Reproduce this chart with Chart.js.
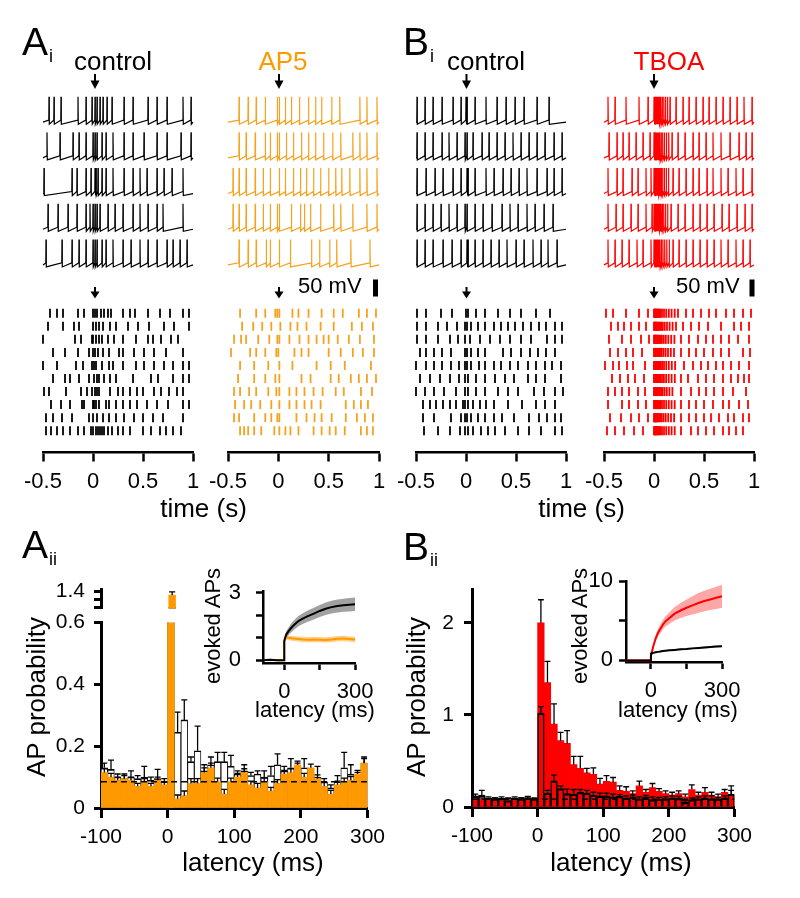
<!DOCTYPE html>
<html>
<head>
<meta charset="utf-8">
<script src="https://cdn.jsdelivr.net/npm/chart.js"></script>
<style>
  body { margin: 0; width: 800px; height: 898px; background: #fff; position: relative; overflow: hidden; }
  canvas { position: absolute; }
  #ann { position: absolute; left: 0; top: 0; z-index: 5; pointer-events: none; }
</style>
</head>
<body>
<svg id="ann" width="800" height="898" font-family="'Liberation Sans', Arial, sans-serif">
  <text x="22" y="55" font-size="39">A</text><text x="49" y="62" font-size="18">i</text>
  <text x="403" y="55" font-size="39">B</text><text x="430" y="62" font-size="18">i</text>
  <text x="22" y="558" font-size="39">A</text><text x="49" y="565" font-size="18">ii</text>
  <text x="403" y="560" font-size="39">B</text><text x="430" y="566" font-size="18">ii</text>

  <text x="74" y="70" font-size="26">control</text>
  <text x="283" y="70" font-size="26" text-anchor="middle" fill="#ff9900">AP5</text>
  <text x="447" y="70" font-size="26">control</text>
  <text x="669" y="70" font-size="26" text-anchor="middle" fill="#ff0000">TBOA</text>

  <text x="298" y="293" font-size="22">50 mV</text>
  <rect x="373" y="279.5" width="5" height="17" fill="#000"/>
  <text x="676" y="293" font-size="22">50 mV</text>
  <rect x="749.5" y="279.5" width="5" height="17" fill="#000"/>

  <text x="203.5" y="517" font-size="26" text-anchor="middle">time (s)</text>
  <text x="581.5" y="517" font-size="26" text-anchor="middle">time (s)</text>

  <text transform="translate(45,697) rotate(-90)" font-size="26" text-anchor="middle">AP probability</text>
  <text transform="translate(425,697) rotate(-90)" font-size="26" text-anchor="middle">AP probability</text>
  <text x="253" y="871" font-size="26" text-anchor="middle">latency (ms)</text>
  <text x="621" y="871" font-size="26" text-anchor="middle">latency (ms)</text>

  <text transform="translate(220,626) rotate(-90)" font-size="22" text-anchor="middle">evoked APs</text>
  <text transform="translate(587,626) rotate(-90)" font-size="22" text-anchor="middle">evoked APs</text>
  <text x="315" y="717" font-size="22" text-anchor="middle">latency (ms)</text>
  <text x="678" y="717" font-size="22" text-anchor="middle">latency (ms)</text>

  <!-- stimulus arrows -->
  <g stroke="#000" stroke-width="2">
    <path d="M95 74 V82 M279 74 V82 M466.5 74 V82 M654 74 V82"/>
    <path d="M95 287 V293 M279 287 V293 M466.5 287 V293 M654 287 V293"/>
  </g>
  <g fill="#000">
    <polygon points="90.5,80.5 99.5,80.5 95,89"/>
    <polygon points="274.5,80.5 283.5,80.5 279,89"/>
    <polygon points="462,80.5 471,80.5 466.5,89"/>
    <polygon points="649.5,80.5 658.5,80.5 654,89"/>
    <polygon points="90.5,291.5 99.5,291.5 95,298.5"/>
    <polygon points="274.5,291.5 283.5,291.5 279,298.5"/>
    <polygon points="462,291.5 471,291.5 466.5,298.5"/>
    <polygon points="649.5,291.5 658.5,291.5 654,298.5"/>
  </g>
</svg>

<script>
// ---- data ----

// membrane traces: spike times (s), 5 sweeps per condition
const ctrlTraceA = [
  [-0.44,-0.39,-0.32,-0.15,-0.07,-0.01,0.02,0.04,0.07,0.10,0.14,0.19,0.31,0.40,0.55,0.64,0.74,0.90,0.98],
  [-0.46,-0.33,-0.20,-0.14,-0.07,0.00,0.02,0.04,0.09,0.13,0.20,0.31,0.40,0.51,0.64,0.74,0.88,0.98],
  [-0.49,-0.21,-0.16,-0.07,-0.02,0.02,0.03,0.05,0.09,0.13,0.20,0.31,0.40,0.47,0.54,0.64,0.71,0.79,0.90],
  [-0.45,-0.35,-0.25,-0.16,-0.07,-0.03,0.00,0.02,0.04,0.07,0.15,0.22,0.30,0.40,0.47,0.55,0.64,0.70,0.90],
  [-0.47,-0.31,-0.21,-0.14,-0.07,0.00,0.02,0.04,0.09,0.13,0.20,0.30,0.38,0.47,0.55,0.64,0.74,0.80,0.87,0.94]
];
const ap5Trace = [
  [-0.39,-0.30,-0.22,-0.13,-0.01,0.01,0.07,0.13,0.21,0.30,0.37,0.43,0.53,0.61,0.81,0.88,0.98],
  [-0.39,-0.32,-0.23,-0.13,-0.08,-0.01,0.01,0.08,0.15,0.23,0.30,0.37,0.45,0.54,0.62,0.74,0.81,0.88,0.98],
  [-0.45,-0.39,-0.32,-0.23,-0.15,-0.08,0.01,0.07,0.15,0.22,0.28,0.35,0.42,0.50,0.57,0.63,0.71,0.81,0.88,0.98],
  [-0.45,-0.39,-0.32,-0.23,-0.15,-0.08,-0.01,0.01,0.13,0.22,0.26,0.32,0.42,0.55,0.62,0.74,0.88,0.98],
  [-0.39,-0.30,-0.22,-0.12,-0.08,0.01,0.12,0.33,0.41,0.51,0.58,0.72,0.91]
];
const ctrlTraceB = [
  [-0.49,-0.41,-0.33,-0.24,-0.13,-0.05,0.00,0.01,0.09,0.20,0.31,0.40,0.49,0.58,0.71,0.83],
  [-0.49,-0.41,-0.33,-0.24,-0.17,-0.09,-0.01,0.01,0.07,0.16,0.23,0.31,0.39,0.47,0.55,0.63,0.71,0.79,0.88,0.96],
  [-0.49,-0.40,-0.31,-0.23,-0.13,-0.05,0.01,0.02,0.09,0.20,0.28,0.37,0.45,0.53,0.61,0.71,0.81,0.88,0.96],
  [-0.49,-0.41,-0.33,-0.25,-0.17,-0.09,-0.01,0.01,0.09,0.17,0.26,0.36,0.44,0.52,0.61,0.69,0.78,0.87],
  [-0.49,-0.41,-0.33,-0.23,-0.14,-0.05,0.01,0.02,0.09,0.17,0.25,0.33,0.41,0.50,0.58,0.67,0.75,0.82,0.91]
];
const tboaTrace = [
  [-0.46,-0.39,-0.28,-0.15,-0.06,0.000,0.008,0.016,0.025,0.034,0.044,0.055,0.068,0.082,0.098,0.115,0.135,0.16,0.22,0.29,0.35,0.42,0.49,0.55,0.62,0.69,0.76,0.83,0.90,0.98],
  [-0.45,-0.37,-0.31,-0.25,-0.18,-0.11,-0.04,0.000,0.008,0.017,0.026,0.036,0.047,0.059,0.072,0.087,0.104,0.124,0.147,0.18,0.24,0.31,0.39,0.45,0.52,0.59,0.67,0.76,0.85,0.92,0.98],
  [-0.46,-0.37,-0.31,-0.22,-0.16,-0.08,-0.03,0.000,0.008,0.016,0.025,0.035,0.046,0.058,0.071,0.086,0.103,0.122,0.145,0.19,0.25,0.32,0.39,0.45,0.53,0.59,0.67,0.74,0.82,0.89,0.98],
  [-0.46,-0.38,-0.31,-0.23,-0.16,-0.08,-0.02,0.000,0.008,0.016,0.025,0.034,0.044,0.055,0.067,0.081,0.097,0.115,0.136,0.17,0.24,0.31,0.39,0.46,0.53,0.60,0.68,0.75,0.83,0.91,0.98],
  [-0.46,-0.39,-0.32,-0.25,-0.17,-0.11,-0.03,0.000,0.008,0.017,0.026,0.036,0.047,0.059,0.073,0.089,0.107,0.128,0.152,0.19,0.25,0.32,0.39,0.46,0.53,0.60,0.67,0.74,0.82,0.89,0.96]
];

// rasters: spike times (s), 10 trials per condition
const ctrlRasterA = [
  [-0.43,-0.36,-0.30,-0.15,-0.09,0.00,0.02,0.04,0.08,0.11,0.15,0.18,0.30,0.37,0.42,0.55,0.67,0.77,0.90,0.96],
  [-0.45,-0.30,-0.19,-0.14,0.00,0.03,0.06,0.10,0.17,0.23,0.35,0.45,0.56,0.71,0.81,0.96],
  [-0.50,-0.18,-0.12,-0.01,0.00,0.03,0.06,0.09,0.15,0.21,0.30,0.43,0.55,0.60,0.68,0.78,0.85],
  [-0.40,-0.28,-0.15,-0.04,0.00,0.02,0.05,0.10,0.16,0.26,0.30,0.41,0.51,0.61,0.73,0.90],
  [-0.50,-0.36,-0.17,-0.10,-0.01,0.01,0.03,0.09,0.16,0.20,0.30,0.43,0.51,0.61,0.71,0.80,0.90,0.96],
  [-0.40,-0.28,-0.23,-0.14,-0.04,0.01,0.04,0.06,0.11,0.17,0.23,0.40,0.58,0.65,0.80,0.90,0.96],
  [-0.49,-0.44,-0.27,-0.12,-0.06,-0.01,0.02,0.04,0.06,0.17,0.25,0.30,0.37,0.44,0.50,0.61,0.68,0.76,0.84,0.90],
  [-0.42,-0.32,-0.23,-0.11,-0.09,0.00,0.01,0.03,0.06,0.13,0.16,0.23,0.30,0.37,0.44,0.54,0.64,0.75,0.90,0.96],
  [-0.47,-0.40,-0.31,-0.21,-0.04,0.00,0.04,0.10,0.16,0.23,0.31,0.41,0.50,0.60,0.70,0.90],
  [-0.47,-0.42,-0.36,-0.30,-0.23,-0.15,-0.09,-0.02,0.00,0.03,0.05,0.07,0.09,0.11,0.15,0.19,0.25,0.30,0.37,0.50,0.58,0.67,0.73,0.80,0.88]
];
const ap5Raster = [
  [-0.38,-0.22,-0.13,-0.03,-0.01,0.01,0.14,0.20,0.30,0.43,0.55,0.64,0.80,0.88,0.97],
  [-0.36,-0.25,-0.16,-0.07,0.02,0.12,0.19,0.28,0.42,0.55,0.73,0.83,0.94],
  [-0.44,-0.37,-0.32,-0.20,-0.09,-0.01,0.01,0.11,0.21,0.30,0.38,0.45,0.50,0.59,0.70,0.81,0.95],
  [-0.47,-0.28,-0.22,-0.13,-0.02,0.00,0.16,0.23,0.30,0.50,0.62,0.74,0.84,0.95],
  [-0.38,-0.24,-0.10,0.01,0.14,0.38,0.52,0.66,0.92],
  [-0.40,-0.24,-0.13,-0.03,0.01,0.23,0.32,0.52,0.60,0.72,0.80,0.88,0.97],
  [-0.44,-0.38,-0.29,-0.22,-0.10,-0.02,0.01,0.11,0.18,0.26,0.35,0.44,0.57,0.65,0.82,0.93],
  [-0.43,-0.34,-0.27,-0.18,-0.07,0.01,0.11,0.18,0.26,0.33,0.42,0.67,0.75,0.82,0.89],
  [-0.44,-0.39,-0.24,-0.13,-0.07,-0.01,0.01,0.18,0.28,0.36,0.43,0.53,0.67,0.78,0.86,0.94],
  [-0.38,-0.34,-0.30,-0.24,-0.17,-0.04,0.01,0.07,0.12,0.20,0.35,0.43,0.51,0.57,0.66,0.82,0.88,0.94]
];
const ctrlRasterB = [
  [-0.49,-0.40,-0.25,-0.14,0.00,0.02,0.10,0.19,0.32,0.44,0.55,0.70,0.84],
  [-0.49,-0.40,-0.28,-0.19,-0.09,-0.01,0.01,0.05,0.12,0.19,0.28,0.35,0.42,0.49,0.57,0.65,0.73,0.80,0.89,0.96],
  [-0.49,-0.40,-0.28,-0.16,-0.08,-0.01,0.04,0.14,0.24,0.34,0.44,0.55,0.65,0.81,0.89,0.96],
  [-0.46,-0.40,-0.32,-0.24,-0.15,-0.01,0.01,0.05,0.12,0.19,0.37,0.45,0.55,0.64,0.72,0.80,0.89],
  [-0.50,-0.40,-0.32,-0.24,-0.15,-0.07,-0.01,0.01,0.05,0.13,0.19,0.28,0.35,0.44,0.52,0.62,0.70,0.79,0.86,0.95],
  [-0.46,-0.36,-0.26,-0.16,-0.07,-0.01,0.02,0.10,0.19,0.29,0.39,0.48,0.62,0.70,0.79,0.95],
  [-0.50,-0.41,-0.32,-0.22,-0.10,-0.01,0.02,0.10,0.19,0.32,0.42,0.52,0.68,0.78,0.89,0.97],
  [-0.43,-0.36,-0.30,-0.23,-0.16,-0.10,-0.03,-0.01,0.02,0.07,0.14,0.20,0.28,0.42,0.56,0.70,0.79,0.89],
  [-0.43,-0.32,-0.15,-0.05,-0.01,0.01,0.05,0.12,0.19,0.28,0.36,0.48,0.63,0.73,0.81,0.89,0.95],
  [-0.42,-0.28,-0.16,-0.06,-0.01,0.02,0.07,0.15,0.22,0.29,0.39,0.52,0.63,0.75,0.89,0.96]
];
const tboaRaster = [
  [-0.48,-0.41,-0.28,-0.15,-0.06,0.000,0.005,0.010,0.015,0.020,0.026,0.032,0.039,0.047,0.056,0.066,0.080,0.100,0.122,0.148,0.176,0.207,0.24,0.32,0.39,0.47,0.55,0.62,0.72,0.80,0.89,0.97],
  [-0.43,-0.36,-0.30,-0.23,-0.15,-0.08,0.000,0.005,0.010,0.015,0.021,0.027,0.034,0.042,0.051,0.061,0.073,0.088,0.107,0.130,0.156,0.186,0.22,0.29,0.37,0.45,0.54,0.67,0.80,0.87,0.95],
  [-0.45,-0.32,-0.23,-0.13,-0.05,0.000,0.005,0.010,0.015,0.020,0.026,0.032,0.039,0.047,0.056,0.066,0.079,0.097,0.118,0.143,0.172,0.204,0.27,0.35,0.44,0.52,0.59,0.67,0.75,0.84,0.95],
  [-0.44,-0.36,-0.28,-0.21,-0.12,0.000,0.005,0.010,0.015,0.020,0.025,0.031,0.038,0.046,0.055,0.065,0.078,0.095,0.116,0.140,0.168,0.200,0.27,0.35,0.42,0.50,0.59,0.67,0.75,0.89,0.96],
  [-0.49,-0.41,-0.35,-0.27,-0.21,-0.09,0.000,0.005,0.010,0.015,0.020,0.026,0.032,0.039,0.047,0.056,0.067,0.081,0.100,0.122,0.148,0.178,0.211,0.30,0.39,0.47,0.54,0.62,0.69,0.77,0.85,0.95],
  [-0.42,-0.34,-0.26,-0.19,-0.10,0.000,0.005,0.010,0.015,0.020,0.026,0.032,0.039,0.047,0.056,0.066,0.080,0.099,0.121,0.147,0.176,0.208,0.27,0.34,0.44,0.52,0.60,0.69,0.77,0.84,0.90,0.95],
  [-0.46,-0.39,-0.32,-0.25,-0.16,-0.09,0.000,0.005,0.010,0.015,0.020,0.026,0.033,0.041,0.050,0.060,0.072,0.087,0.106,0.128,0.154,0.184,0.27,0.37,0.45,0.52,0.60,0.69,0.79,0.92],
  [-0.46,-0.32,-0.25,-0.16,-0.08,0.000,0.005,0.010,0.015,0.020,0.026,0.032,0.039,0.047,0.056,0.066,0.080,0.100,0.122,0.148,0.176,0.207,0.27,0.35,0.42,0.50,0.59,0.69,0.75,0.85,0.94],
  [-0.44,-0.33,-0.23,-0.15,-0.06,0.000,0.005,0.010,0.015,0.020,0.025,0.031,0.038,0.046,0.055,0.065,0.078,0.096,0.117,0.142,0.170,0.201,0.27,0.35,0.42,0.50,0.57,0.65,0.74,0.80,0.89,0.95],
  [-0.47,-0.39,-0.30,-0.20,-0.11,0.000,0.005,0.010,0.015,0.020,0.026,0.032,0.039,0.047,0.056,0.066,0.080,0.100,0.122,0.148,0.176,0.207,0.27,0.37,0.44,0.52,0.60,0.69,0.75,0.82,0.89]
];
const rasterTicks = [-0.5, 0, 0.5, 1];

// peri-stimulus histograms: 10 ms bins (centres, ms)
const latencyBins = [-95,-85,-75,-65,-55,-45,-35,-25,-15,-5,5,15,25,35,45,55,65,75,85,95,
                     105,115,125,135,145,155,165,175,185,195,205,215,225,235,245,255,265,275,285,295];
const latencyTicks = [-100, 0, 100, 200, 300];

const ctrlProbA = [0.130,0.125,0.100,0.095,0.100,0.095,0.100,0.090,0.095,0.085,
                   1.000,0.245,0.285,0.150,0.185,0.120,0.140,0.150,0.150,0.135,
                   0.110,0.120,0.105,0.110,0.100,0.105,0.140,0.120,0.130,0.115,
                   0.130,0.105,0.100,0.085,0.065,0.085,0.130,0.110,0.095,0.145];
const ctrlErrA  = [0.015,0.030,0.010,0.015,0.020,0.010,0.035,0.010,0.030,0.010,
                   0.050,0.065,0.065,0.015,0.080,0.020,0.025,0.030,0.030,0.035,
                   0.010,0.020,0.010,0.010,0.020,0.030,0.035,0.015,0.030,0.030,
                   0.030,0.020,0.035,0.010,0.010,0.020,0.050,0.030,0.020,0.020];
const ap5Prob   = [0.115,0.100,0.090,0.095,0.090,0.070,0.085,0.070,0.090,0.075,
                   1.300,0.030,0.040,0.080,0.080,0.115,0.130,0.085,0.045,0.085,
                   0.100,0.115,0.075,0.065,0.085,0.055,0.080,0.110,0.115,0.140,
                   0.100,0.130,0.095,0.070,0.045,0.075,0.085,0.090,0.110,0.145];
const ap5Err    = [0.012,0.012,0.010,0.010,0.010,0.010,0.010,0.010,0.010,0.010,
                   0.080,0.012,0.015,0.015,0.015,0.015,0.015,0.012,0.015,0.012,
                   0.012,0.012,0.012,0.015,0.012,0.012,0.012,0.012,0.012,0.012,
                   0.012,0.012,0.012,0.012,0.012,0.012,0.012,0.012,0.012,0.015];
const probTicksA = [0, 0.2, 0.4, 0.6];
const probTicksABreak = [1.0, 1.2, 1.4];

const ctrlProbB = [0.120,0.130,0.100,0.090,0.095,0.070,0.100,0.090,0.100,0.090,
                   1.020,0.150,0.285,0.200,0.145,0.140,0.160,0.150,0.130,0.120,
                   0.120,0.110,0.115,0.100,0.110,0.090,0.105,0.080,0.085,0.090,
                   0.100,0.095,0.050,0.080,0.090,0.100,0.090,0.085,0.100,0.140];
const ctrlErrB  = [0.020,0.050,0.010,0.010,0.015,0.030,0.010,0.010,0.015,0.010,
                   0.070,0.030,0.060,0.030,0.050,0.050,0.030,0.030,0.030,0.030,
                   0.030,0.030,0.020,0.020,0.020,0.020,0.020,0.030,0.020,0.020,
                   0.020,0.020,0.020,0.020,0.020,0.020,0.030,0.020,0.020,0.090];
const tboaProb  = [0.100,0.090,0.080,0.090,0.070,0.080,0.080,0.090,0.100,0.080,
                   2.000,1.350,0.900,0.720,0.690,0.460,0.420,0.370,0.355,0.250,
                   0.280,0.270,0.180,0.170,0.145,0.230,0.160,0.210,0.170,0.145,
                   0.130,0.145,0.110,0.190,0.130,0.160,0.130,0.110,0.160,0.130];
const tboaErr   = [0.010,0.010,0.010,0.010,0.010,0.010,0.010,0.010,0.010,0.010,
                   0.250,0.230,0.220,0.090,0.140,0.090,0.130,0.050,0.070,0.060,
                   0.060,0.050,0.050,0.050,0.030,0.050,0.030,0.045,0.030,0.030,
                   0.030,0.030,0.030,0.050,0.030,0.050,0.030,0.030,0.030,0.050];
const probTicksB = [0, 1, 2];

const baselineLat = [-100, 300];
const baselineA = [0.085, 0.085];
const baselineB = [0.084, 0.084];

// insets: cumulative evoked APs
const insetLatA = [-90,-60,-30,-1,0,5,10,20,30,40,60,80,100,125,150,175,200,225,250,275,300];
const ctrlEvokedA    = [0,0.02,0,0,0.85,1.05,1.18,1.32,1.45,1.56,1.75,1.87,1.97,2.08,2.20,2.30,2.37,2.42,2.45,2.48,2.50];
const ctrlEvokedErrA = [0.03,0.03,0.03,0.03,0.10,0.13,0.15,0.18,0.20,0.21,0.23,0.24,0.25,0.26,0.27,0.28,0.28,0.29,0.29,0.30,0.30];
const ap5Evoked      = [0,0.02,0,0,0.85,1.00,1.02,1.00,0.98,0.97,0.95,0.93,0.92,0.93,0.92,0.91,0.93,0.96,0.97,0.95,0.93];
const ap5EvokedErr   = [0.03,0.03,0.03,0.03,0.08,0.10,0.10,0.10,0.11,0.11,0.11,0.12,0.12,0.12,0.12,0.12,0.12,0.12,0.12,0.12,0.12];
const evokedTicksA = [0, 1, 2, 3];

const insetLatB = [-105,-60,-30,-1,0,5,10,20,30,40,50,60,80,100,125,150,175,200,225,250,275,300];
const tboaEvoked     = [0,0,0,0,0.6,1.2,1.8,2.8,3.5,4.0,4.5,4.9,5.4,5.9,6.3,6.65,6.95,7.25,7.5,7.7,7.9,8.1];
const tboaEvokedErr  = [0.05,0.05,0.05,0.05,0.15,0.25,0.3,0.4,0.5,0.55,0.6,0.65,0.75,0.85,0.95,1.05,1.15,1.25,1.3,1.35,1.4,1.45];
const ctrlEvokedB    = [0,0,0,0,0.85,0.90,0.95,1.02,1.08,1.13,1.18,1.22,1.28,1.33,1.40,1.45,1.52,1.57,1.63,1.70,1.75,1.80];
const ctrlEvokedErrB = [0.03,0.03,0.03,0.03,0.06,0.07,0.08,0.08,0.09,0.09,0.1,0.1,0.1,0.1,0.11,0.11,0.11,0.12,0.12,0.12,0.12,0.12];
const evokedTicksB = [0, 5, 10];
const insetTicksX = [0, 150, 300];

// ---- styling ----
const ORANGE = '#ff9900';
const ORANGE_TRACE = '#f6a21e';
const RED = '#ff0000';
const REST = -65, PEAK = 10, AHP = -71, PRE = -59, ROW_STEP = 105;

Chart.defaults.font.family = "'Liberation Sans', Arial, Helvetica, sans-serif";
Chart.defaults.font.size = 22;
Chart.defaults.color = '#000';
Chart.defaults.animation = false;
Chart.defaults.responsive = false;
Chart.defaults.events = [];
Chart.defaults.plugins.legend.display = false;
Chart.defaults.plugins.tooltip.enabled = false;

function makeCanvas(b) {
  const c = document.createElement('canvas');
  c.width = Math.round(b.w + b.pl + b.pr);
  c.height = Math.round(b.h + b.pt + b.pb);
  c.style.left = (b.l - b.pl) + 'px';
  c.style.top = (b.t - b.pt) + 'px';
  document.body.appendChild(c);
  return c;
}

function fixedTicks(vals) {
  return function (s) { s.ticks = vals.map(function (v) { return {value: v}; }); };
}

function xAxis(min, max, ticks, label, o) {
  return {
    type: 'linear', min: min, max: max, offset: false,
    afterBuildTicks: fixedTicks(ticks),
    afterFit: function (s) { s.height = o.h; },
    border: {display: true, color: '#000', width: o.lw},
    grid: {display: true, drawOnChartArea: false, drawTicks: true, tickLength: o.len, tickWidth: o.lw, tickColor: '#000', offset: false},
    ticks: {padding: o.pad, maxRotation: 0, minRotation: 0, autoSkip: false, color: '#000', font: {size: o.fs},
            callback: function (v) { return label(v); }}
  };
}

function yAxis(min, max, ticks, label, o) {
  return {
    type: 'linear', min: min, max: max, position: 'left',
    afterBuildTicks: fixedTicks(ticks),
    afterFit: function (s) { s.width = o.w; },
    border: {display: true, color: '#000', width: o.lw},
    grid: {display: true, drawOnChartArea: false, drawTicks: true, tickLength: o.len, tickWidth: o.lw, tickColor: '#000'},
    ticks: {padding: o.pad, autoSkip: false, color: '#000', font: {size: o.fs},
            callback: function (v) { return label(v); }}
  };
}

function traceData(spikes, row) {
  const off = -ROW_STEP * row;
  const pts = [{x: -0.5, y: REST + off}];
  spikes.forEach(function (s) {
    pts.push({x: s - 0.002, y: PRE + off});
    pts.push({x: s, y: PEAK + off});
    pts.push({x: s + 0.003, y: AHP + off});
  });
  pts.push({x: 1.0, y: REST + off});
  return pts;
}

function traceChart(box, sweeps, color) {
  new Chart(makeCanvas(box), {
    type: 'line',
    data: {datasets: sweeps.map(function (spk, r) {
      return {data: traceData(spk, r), borderColor: color, borderWidth: 1.2, pointRadius: 0, tension: 0, clip: false};
    })},
    options: {
      layout: {padding: {left: box.pl, right: box.pr, top: box.pt, bottom: box.pb}},
      scales: {
        x: {type: 'linear', min: -0.5, max: 1.0, display: false},
        y: {type: 'linear', min: -500, max: 15, display: false}
      }
    }
  });
}

function rasterChart(box, trials, color) {
  const pts = [];
  trials.forEach(function (r, i) { r.forEach(function (t) { pts.push({x: t, y: i + 1}); }); });
  new Chart(makeCanvas(box), {
    type: 'scatter',
    data: {datasets: [{data: pts, pointStyle: 'line', pointRotation: 90, pointRadius: 4.5,
                       pointBorderWidth: 1.8, pointBorderColor: color, borderColor: color, clip: false}]},
    options: {
      layout: {padding: {left: box.pl, right: box.pr, top: box.pt, bottom: 0}},
      scales: {
        x: xAxis(-0.5, 1, rasterTicks, function (v) { return String(v); },
                 {h: box.pb, len: 9.5, lw: 2.5, pad: 7, fs: 22}),
        y: {type: 'linear', min: 0.52, max: 11.63, reverse: true, display: false}
      }
    }
  });
}

function bars(bins, vals) { return bins.map(function (x, i) { return {x: x, y: vals[i]}; }); }
function errSegs(bins, vals, errs, cap) {
  const pts = [];
  bins.forEach(function (x, i) {
    const top = vals[i] + errs[i];
    pts.push({x: x, y: vals[i]}, {x: x, y: top}, {x: x, y: null});
    pts.push({x: x - cap, y: top}, {x: x + cap, y: top}, {x: x, y: null});
  });
  return pts;
}
function line(xs, ys) { return xs.map(function (x, i) { return {x: x, y: ys[i]}; }); }

function barSet(vals, fill, border, order) {
  return {type: 'bar', data: bars(latencyBins, vals), backgroundColor: fill,
          borderColor: '#000', borderWidth: border, borderSkipped: 'start',
          grouped: false, barPercentage: 1, categoryPercentage: 1, order: order, clip: 0};
}
function errSet(vals, errs, order) {
  return {type: 'line', data: errSegs(latencyBins, vals, errs, 4.5), borderColor: '#000',
          borderWidth: 1.3, pointRadius: 0, tension: 0, order: order, clip: 0};
}
function dashSet(vals) {
  return {type: 'line', data: line(baselineLat, vals), borderColor: '#000', borderWidth: 1.5,
          borderDash: [6, 4], pointRadius: 0, order: 0, clip: 0};
}
const OUTLINE = {top: 1.6, left: 0.9, right: 0.9, bottom: 0};

function datasetsA() {
  return [
    dashSet(baselineA),
    errSet(ap5Prob, ap5Err, 1),
    barSet(ap5Prob, ORANGE, 0, 2),
    errSet(ctrlProbA, ctrlErrA, 3),
    barSet(ctrlProbA, '#ffffff', OUTLINE, 4)
  ];
}
function datasetsB() {
  return [
    dashSet(baselineB),
    errSet(ctrlProbB, ctrlErrB, 1),
    barSet(ctrlProbB, 'rgba(0,0,0,0)', OUTLINE, 2),
    errSet(tboaProb, tboaErr, 3),
    barSet(tboaProb, RED, 0, 4)
  ];
}

function histChart(box, yMin, yMax, yTicks, yLabel, datasets, showX, yo) {
  const x = showX
    ? xAxis(-100, 300, latencyTicks, function (v) { return String(v); }, {h: box.pb, len: 10, lw: 3, pad: 7, fs: 21})
    : {type: 'linear', min: -100, max: 300, offset: false, display: false, afterBuildTicks: fixedTicks(latencyTicks)};
  new Chart(makeCanvas(box), {
    type: 'bar',
    data: {datasets: datasets},
    options: {
      layout: {padding: {left: 0, right: box.pr, top: box.pt, bottom: showX ? 0 : box.pb}},
      scales: {
        x: x,
        y: yAxis(yMin, yMax, yTicks, yLabel, {w: box.pl, len: yo.len, lw: 3, pad: yo.pad, fs: 21})
      }
    }
  });
}

function insetChart(box, xMin, yMin, yMax, yTicks, yLabel, xs, fg, bg, yPad) {
  function band(v, e, s) { return xs.map(function (x, i) { return {x: x, y: v[i] + s * e[i]}; }); }
  new Chart(makeCanvas(box), {
    type: 'line',
    data: {datasets: [
      {data: line(xs, fg.v), borderColor: fg.color, borderWidth: 2, pointRadius: 0, order: 0},
      {data: line(xs, bg.v), borderColor: bg.color, borderWidth: 2, pointRadius: 0, order: 1},
      {data: band(fg.v, fg.e, 1), fill: '+1', backgroundColor: fg.band, borderWidth: 0, pointRadius: 0, order: 2},
      {data: band(fg.v, fg.e, -1), fill: false, borderWidth: 0, pointRadius: 0, order: 3},
      {data: band(bg.v, bg.e, 1), fill: '+1', backgroundColor: bg.band, borderWidth: 0, pointRadius: 0, order: 4},
      {data: band(bg.v, bg.e, -1), fill: false, borderWidth: 0, pointRadius: 0, order: 5}
    ]},
    options: {
      layout: {padding: {left: 0, right: box.pr, top: box.pt, bottom: 0}},
      scales: {
        x: xAxis(xMin, 300, insetTicksX, function (v) { return v === 150 ? '' : String(v); },
                 {h: box.pb, len: 7, lw: 2.5, pad: 8.5, fs: 22}),
        y: yAxis(yMin, yMax, yTicks, yLabel, {w: box.pl, len: 7, lw: 2.5, pad: yPad, fs: 22})
      }
    }
  });
}

// ---- panels ----
traceChart({l: 43,  t: 95, w: 150, h: 175, pl: 8, pr: 8, pt: 8, pb: 8}, ctrlTraceA, '#000');
traceChart({l: 228, t: 95, w: 151, h: 175, pl: 8, pr: 8, pt: 8, pb: 8}, ap5Trace, ORANGE_TRACE);
traceChart({l: 416, t: 95, w: 150, h: 175, pl: 8, pr: 8, pt: 8, pb: 8}, ctrlTraceB, '#000');
traceChart({l: 604, t: 95, w: 150, h: 175, pl: 8, pr: 8, pt: 8, pb: 8}, tboaTrace, RED);

rasterChart({l: 43,  t: 307, w: 150, h: 145, pl: 30, pr: 15, pt: 8, pb: 50}, ctrlRasterA, '#000');
rasterChart({l: 228, t: 307, w: 151, h: 145, pl: 30, pr: 15, pt: 8, pb: 50}, ap5Raster, ORANGE_TRACE);
rasterChart({l: 416, t: 307, w: 150, h: 145, pl: 30, pr: 15, pt: 8, pb: 50}, ctrlRasterB, '#000');
rasterChart({l: 604, t: 307, w: 150, h: 145, pl: 30, pr: 15, pt: 8, pb: 50}, tboaRaster, RED);

// A ii: broken axis, lower and upper segments
histChart({l: 101, t: 617, w: 271, h: 190.5, pl: 60, pr: 20, pt: 16, pb: 50}, 0, 0.6, probTicksA,
          function (v) { return v === 0 ? '0' : v.toFixed(1); }, datasetsA(), true, {len: 7, pad: 9});
histChart({l: 101, t: 584, w: 271, h: 26, pl: 60, pr: 20, pt: 16, pb: 20}, 0.9695, 1.436, probTicksABreak,
          function (v) { return v === 1.4 ? '1.4' : ''; }, datasetsA(), false, {len: 7, pad: 9});
// B ii
histChart({l: 472, t: 583, w: 267, h: 224, pl: 60, pr: 20, pt: 16, pb: 50}, 0, 2.36, probTicksB,
          function (v) { return String(v); }, datasetsB(), true, {len: 8, pad: 10});

insetChart({l: 263, t: 579, w: 94, h: 84, pl: 50, pr: 25, pt: 16, pb: 45}, -90, -0.12, 3.08, evokedTicksA,
           function (v) { return (v === 0 || v === 3) ? String(v) : ''; }, insetLatA,
           {v: ctrlEvokedA, e: ctrlEvokedErrA, color: '#000', band: 'rgba(110,110,110,0.65)'},
           {v: ap5Evoked, e: ap5EvokedErr, color: ORANGE, band: 'rgba(255,153,0,0.45)'}, 15);
insetChart({l: 626, t: 578, w: 98, h: 84, pl: 50, pr: 25, pt: 16, pb: 45}, -105, -0.2, 10, evokedTicksB,
           function (v) { return v === 5 ? '' : String(v); }, insetLatB,
           {v: ctrlEvokedB, e: ctrlEvokedErrB, color: '#000', band: 'rgba(110,110,110,0.5)'},
           {v: tboaEvoked, e: tboaEvokedErr, color: RED, band: 'rgba(255,0,0,0.35)'}, 6);
</script>
</body>
</html>
